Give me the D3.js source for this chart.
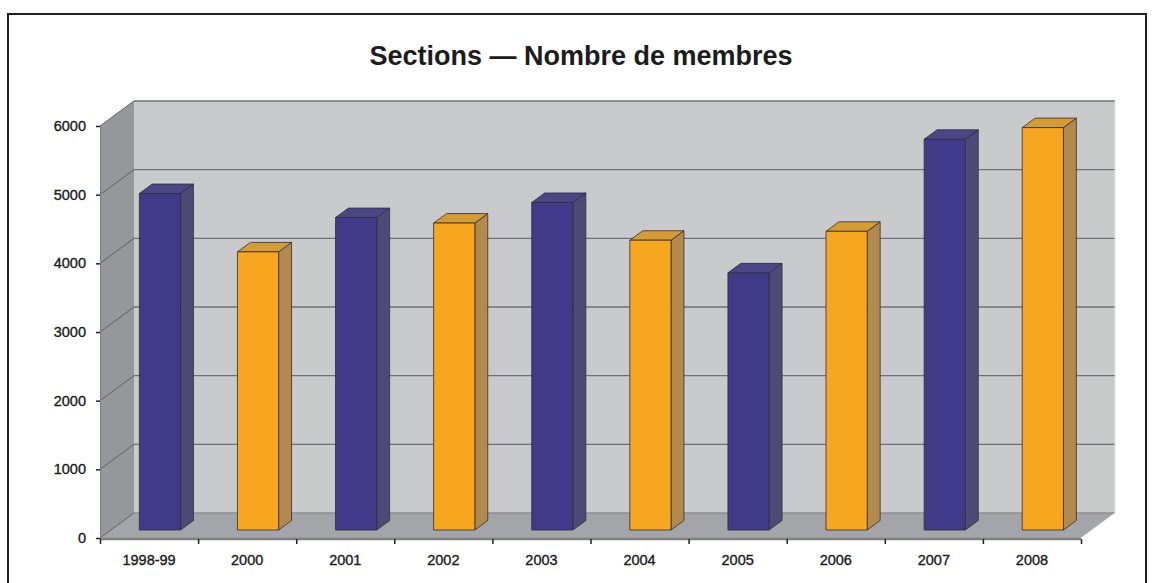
<!DOCTYPE html>
<html>
<head>
<meta charset="utf-8">
<script src="https://cdn.jsdelivr.net/npm/d3@7"></script>
<style>
  body { margin: 0; background: #fff; }
  text { font-family: "Liberation Sans", Arial, Helvetica, sans-serif; }
</style>
</head>
<body>
<svg width="1154" height="583"></svg>
<script>
  const categories = ['1998-99', '2000', '2001', '2002', '2003', '2004', '2005', '2006', '2007', '2008'];
  const members = [4900, 4050, 4550, 4470, 4770, 4220, 3745, 4350, 5690, 5860];
  const yTicks = [0, 1000, 2000, 3000, 4000, 5000, 6000];
  const barColors = ['blue', 'orange', 'blue', 'orange', 'blue', 'orange', 'blue', 'orange', 'blue', 'orange'];

  const svg = d3.select('svg');
  const width = +svg.attr('width');

  const title = 'Sections \u2014 Nombre de membres';

  // palette for each face of the boxes
  const shades = {
    blue:   { front: '#403a88', side: '#4f4977', top: '#4b4686' },
    orange: { front: '#f7a71f', side: '#b38a4e', top: '#d59b37' }
  };

  const plotLeft = 100, plotRight = 1081, plotBottom = 538, plotTop = 126;
  const DX = 34, DY = -25;          // depth of the 3d box
  const f1 = 0.32, f2 = 0.70;       // bar depth, as a share of the box

  const xScale = d3.scaleBand()
    .domain(categories)
    .range([plotLeft, plotRight])
    .paddingInner(0.58)
    .paddingOuter(0.29);

  const xEdge = d3.scaleLinear()
    .domain([0, categories.length])
    .range([plotLeft, plotRight]);

  const yScale = d3.scaleLinear()
    .domain([0, 6000])
    .range([plotBottom, plotTop]);

  // frame
  svg.append('rect')
    .attr('x', 8).attr('y', 14)
    .attr('width', 1138).attr('height', 620)
    .attr('fill', 'none')
    .attr('stroke', '#1e1e1e')
    .attr('stroke-width', 2);

  svg.append('text')
    .attr('x', 581)
    .attr('y', 65)
    .attr('text-anchor', 'middle')
    .attr('font-size', 27)
    .attr('font-weight', 'bold')
    .attr('fill', '#1c1c1c')
    .text(title);

  const pts = arr => arr.map(p => p.join(',')).join(' ');
  const y0 = yScale(0), yMax = yScale(6000);

  // back wall
  svg.append('polygon')
    .attr('points', pts([[plotLeft + DX, yMax + DY], [plotRight + DX, yMax + DY], [plotRight + DX, y0 + DY], [plotLeft + DX, y0 + DY]]))
    .attr('fill', '#c9cacc');

  // left wall
  svg.append('polygon')
    .attr('points', pts([[plotLeft, yMax], [plotLeft + DX, yMax + DY], [plotLeft + DX, y0 + DY], [plotLeft, y0]]))
    .attr('fill', '#96979a');

  // floor
  svg.append('polygon')
    .attr('points', pts([[plotLeft, y0], [plotLeft + DX, y0 + DY], [plotRight + DX, y0 + DY], [plotRight, y0]]))
    .attr('fill', '#a4a5a8');

  // grid lines on the walls
  const grid = svg.append('g')
    .attr('stroke', '#6f7073')
    .attr('stroke-width', 1.4)
    .attr('fill', 'none');

  grid.selectAll('.back').data(yTicks)
    .enter().append('line')
      .attr('x1', plotLeft + DX).attr('x2', plotRight + DX)
      .attr('y1', d => yScale(d) + DY).attr('y2', d => yScale(d) + DY)
      .attr('stroke', d => d === 0 ? '#8d8e91' : '#6f7073');

  grid.selectAll('.side').data(yTicks)
    .enter().append('line')
      .attr('x1', plotLeft).attr('x2', plotLeft + DX)
      .attr('y1', d => yScale(d)).attr('y2', d => yScale(d) + DY)
      .attr('stroke-width', 1)
      .attr('stroke', '#5f6063');

  // wall edges
  grid.append('line')
    .attr('x1', plotRight + DX).attr('x2', plotRight + DX)
    .attr('y1', yMax + DY).attr('y2', y0 + DY)
    .attr('stroke', '#e2e3e5').attr('stroke-width', 1);
  grid.append('line')
    .attr('x1', plotRight).attr('x2', plotRight + DX)
    .attr('y1', y0).attr('y2', y0 + DY)
    .attr('stroke', '#e8e8ea').attr('stroke-width', 1);
  grid.append('line')
    .attr('x1', plotLeft).attr('x2', plotRight)
    .attr('y1', y0 + 1).attr('y2', y0 + 1)
    .attr('stroke', '#808184').attr('stroke-width', 2.5);

  // bars
  const bw = xScale.bandwidth();
  const bars = svg.append('g')
    .attr('stroke', '#2e2c3a')
    .attr('stroke-width', 0.8)
    .attr('stroke-linejoin', 'round');

  categories.forEach((cat, i) => {
    const c = shades[barColors[i]];
    const xa = xScale(cat) + DX * f1;
    const xb = xa + bw;
    const ya = yScale(0) + DY * f1;
    const yt = ya - (yScale(0) - yScale(members[i]));
    const ddx = DX * (f2 - f1), ddy = DY * (f2 - f1);

    bars.append('polygon')
      .attr('points', pts([[xb, yt], [xb + ddx, yt + ddy], [xb + ddx, ya + ddy], [xb, ya]]))
      .attr('fill', c.side);
    bars.append('polygon')
      .attr('points', pts([[xa, yt], [xa + ddx, yt + ddy], [xb + ddx, yt + ddy], [xb, yt]]))
      .attr('fill', c.top);
    bars.append('rect')
      .attr('x', xa).attr('y', yt)
      .attr('width', bw).attr('height', ya - yt)
      .attr('fill', c.front);
  });

  // y axis
  const yAxisG = svg.append('g')
    .attr('transform', `translate(${plotLeft},0)`)
    .call(d3.axisLeft(yScale).tickValues(yTicks).tickFormat(d3.format('d'))
      .tickSize(4).tickSizeOuter(0).tickPadding(10));
  yAxisG.select('.domain').attr('stroke', '#7d7e81');
  yAxisG.selectAll('.tick line').attr('stroke', '#222').attr('stroke-width', 1.5);
  yAxisG.selectAll('text')
    .attr('font-size', 14.5)
    .attr('fill', '#1a1a1a')
    .attr('stroke', '#1a1a1a')
    .attr('stroke-width', 0.35)
    .style('font-family', '"Liberation Sans", Arial, sans-serif');

  // x axis: labels at band centres, ticks at band edges
  const xAxisG = svg.append('g')
    .attr('transform', `translate(0,${plotBottom + 2})`)
    .call(d3.axisBottom(xScale).tickSize(0).tickPadding(15));
  xAxisG.select('.domain').remove();
  xAxisG.selectAll('text')
    .attr('font-size', 14.5)
    .attr('fill', '#1a1a1a')
    .attr('stroke', '#1a1a1a')
    .attr('stroke-width', 0.35)
    .style('font-family', '"Liberation Sans", Arial, sans-serif');

  const xTickG = svg.append('g')
    .attr('transform', `translate(0,${plotBottom + 1})`)
    .call(d3.axisBottom(xEdge).ticks(categories.length).tickFormat('').tickSize(5).tickSizeOuter(0));
  xTickG.select('.domain').remove();
  xTickG.selectAll('.tick line').attr('stroke', '#222').attr('stroke-width', 1.5);
</script>
</body>
</html>
